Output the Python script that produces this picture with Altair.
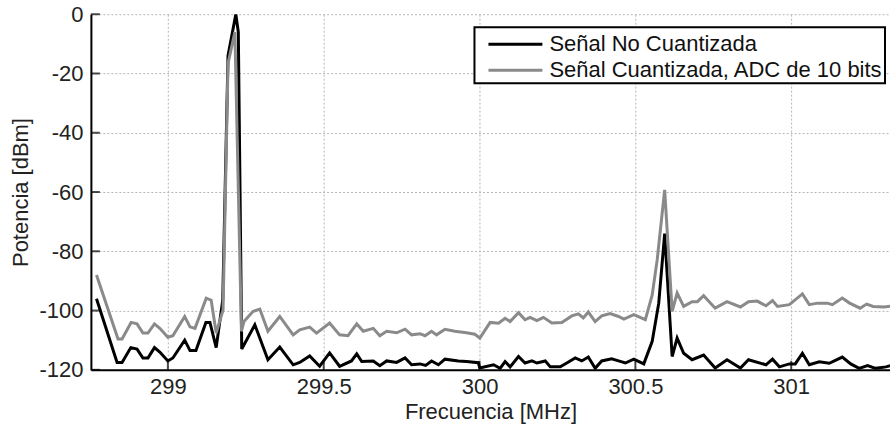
import altair as alt
import pandas as pd

# ---- data ----
freq_black = [298.771, 298.837, 298.853, 298.881, 298.901, 298.920, 298.936, 298.957, 298.974, 299.000,
              299.016, 299.054, 299.071, 299.090, 299.122, 299.135, 299.155, 299.176, 299.193, 299.218,
              299.226, 299.237, 299.279, 299.321, 299.359, 299.402, 299.423, 299.455, 299.487, 299.519,
              299.551, 299.589, 299.606, 299.622, 299.659, 299.680, 299.702, 299.734, 299.761, 299.782,
              299.809, 299.827, 299.846, 299.868, 299.889, 299.932, 299.958, 299.996, 300.001, 300.045,
              300.066, 300.082, 300.098, 300.125, 300.146, 300.168, 300.184, 300.211, 300.227, 300.259,
              300.280, 300.307, 300.328, 300.349, 300.371, 300.392, 300.424, 300.446, 300.468, 300.495,
              300.527, 300.554, 300.575, 300.594, 300.618, 300.634, 300.655, 300.682, 300.719, 300.756,
              300.794, 300.837, 300.863, 300.919, 300.940, 300.962, 300.994, 301.013, 301.036, 301.058,
              301.090, 301.122, 301.164, 301.191, 301.218, 301.245, 301.271, 301.304, 301.321]
pow_black = [-96, -117.5, -117.5, -112.5, -113, -116, -116, -112.5, -114, -117,
             -116, -110, -113.5, -113.5, -104, -104, -112.5, -96.5, -14, 0,
             -6, -113, -104.8, -116.6, -112.3, -118.3, -117.5, -115.3, -118.8, -114.3,
             -118.8, -117, -114.6, -117.2, -117, -118.6, -117, -117.5, -116, -118.3,
             -118, -118.5, -117, -118.3, -116.4, -117, -117.2, -117.6, -119.4, -118.3,
             -119.5, -117.2, -119, -115.5, -117.7, -117, -117.7, -117, -119, -119,
             -117.7, -116, -117, -115.7, -119.5, -117, -116.3, -117, -117.7, -116.4,
             -118, -110.4, -97.5, -74, -115.5, -109.3, -114.4, -116.6, -115, -119.4,
             -116.6, -119.4, -116.6, -118.3, -116.4, -119, -118, -118, -114.4, -118.3,
             -117.3, -117.8, -115.7, -118, -119.5, -118.6, -119.5, -119, -118.5]

freq_gray = [298.771, 298.840, 298.853, 298.882, 298.901, 298.920, 298.936, 298.957, 298.974, 299.000,
             299.016, 299.054, 299.071, 299.087, 299.123, 299.139, 299.155, 299.177, 299.193, 299.215,
             299.236, 299.244, 299.273, 299.295, 299.321, 299.359, 299.402, 299.423, 299.455, 299.477,
             299.519, 299.551, 299.578, 299.606, 299.627, 299.659, 299.680, 299.702, 299.734, 299.761,
             299.782, 299.809, 299.825, 299.846, 299.862, 299.889, 299.921, 299.958, 299.985, 300.001,
             300.034, 300.061, 300.082, 300.098, 300.125, 300.146, 300.162, 300.184, 300.205, 300.232,
             300.264, 300.296, 300.317, 300.333, 300.349, 300.371, 300.392, 300.419, 300.446, 300.463,
             300.495, 300.532, 300.554, 300.570, 300.594, 300.618, 300.634, 300.655, 300.682, 300.699,
             300.719, 300.756, 300.794, 300.837, 300.863, 300.891, 300.919, 300.940, 300.956, 300.994,
             301.036, 301.058, 301.084, 301.116, 301.132, 301.164, 301.186, 301.221, 301.242, 301.263,
             301.298, 301.321]
pow_gray = [-88, -109.6, -109.6, -104, -104.5, -107.6, -107.6, -104.5, -106, -109,
            -108.5, -102, -105.5, -106, -95.8, -96.5, -107.6, -99.8, -16.6, -6,
            -107, -103.7, -100.3, -99.5, -107, -102, -108.2, -106.5, -105.6, -107.6,
            -104.2, -108.2, -108.5, -104.5, -107, -106, -108.5, -107, -107.5, -106.3,
            -108.2, -107.8, -108.5, -107, -108.2, -106.3, -107, -107.5, -108, -109.3,
            -104, -104.3, -102.6, -103.7, -100.7, -103.1, -102.3, -103.4, -102.3, -104.2,
            -104, -101.8, -101.1, -102.5, -100.5, -103.7, -101.8, -101, -102, -102.9,
            -101.4, -103.1, -94.7, -82.9, -59.3, -100.3, -94.1, -98.6, -97, -97,
            -95, -99.2, -97, -98.8, -97, -96.8, -98.4, -96.6, -98.6, -98,
            -94.4, -98, -97.5, -97.5, -98, -95.8, -97.4, -99.2, -97.8, -98.6,
            -98.8, -98.5]

series_names = ["Señal No Cuantizada", "Señal Cuantizada, ADC de 10 bits"]
series_colors = ["#000000", "#8a8a8a"]
x_ticks = [299, 299.5, 300, 300.5, 301]
y_ticks = [-120, -100, -80, -60, -40, -20, 0]
x_domain = [298.753, 301.317]
y_domain = [-120, 0]

FONT = "Liberation Sans"

df_black = pd.DataFrame({"freq": freq_black, "power": pow_black, "serie": series_names[0]})
df_gray = pd.DataFrame({"freq": freq_gray, "power": pow_gray, "serie": series_names[1]})

x_enc = alt.X("freq:Q", scale=alt.Scale(domain=x_domain, nice=False, zero=False),
              axis=alt.Axis(values=x_ticks, title="Frecuencia [MHz]", labelExpr="datum.value + ''",
                            labelPadding=7, titlePadding=4))
y_enc = alt.Y("power:Q", scale=alt.Scale(domain=y_domain, nice=False, zero=False),
              axis=alt.Axis(values=y_ticks, title="Potencia [dBm]", labelExpr="datum.value + ''",
                            labelPadding=8, titlePadding=6))
color_enc = alt.Color("serie:N", scale=alt.Scale(domain=series_names, range=series_colors),
                      legend=alt.Legend(title=None, orient="none", legendX=384, legendY=13,
                                        symbolType="M-2,0H2", symbolSize=729, symbolStrokeWidth=3,
                                        labelFontSize=22, labelFont=FONT, labelColor="#111",
                                        strokeColor="black", fillColor="white", padding=2,
                                        rowPadding=-1, symbolOffset=24, labelOffset=19, labelLimit=600))

black = alt.Chart(df_black).mark_line(strokeWidth=3, clip=True).encode(x=x_enc, y=y_enc, color=color_enc)
gray = alt.Chart(df_gray).mark_line(strokeWidth=3, clip=True).encode(x=x_enc, y=y_enc, color=color_enc)

xt = alt.Chart(pd.DataFrame({"freq": x_ticks})).transform_calculate(
    power=str(y_domain[0])).mark_tick(
    orient="vertical", size=9, thickness=2, yOffset=-4.5, color="black").encode(x=x_enc, y=y_enc)
yt = alt.Chart(pd.DataFrame({"power": y_ticks})).transform_calculate(
    freq=str(x_domain[0])).mark_tick(
    orient="horizontal", size=9, thickness=2, xOffset=4.5, color="black").encode(x=x_enc, y=y_enc)

chart = alt.layer(black, gray, xt, yt).properties(
    width=800, height=356, autosize="none",
    padding={"left": 91, "top": 14, "right": 0, "bottom": 56},
).configure_view(stroke=None).configure_axis(
    grid=True, gridDash=[2, 2], gridColor="#b5b5b5", gridWidth=1,
    domainColor="black", domainWidth=2, tickSize=0,
    labelFont=FONT, labelFontSize=22, labelColor="#222",
    titleFont=FONT, titleFontSize=22, titleFontWeight="normal", titleColor="#222",
).configure_legend(strokeWidth=2)

chart.save("out.html", embed_options={"renderer": "svg", "actions": False})
